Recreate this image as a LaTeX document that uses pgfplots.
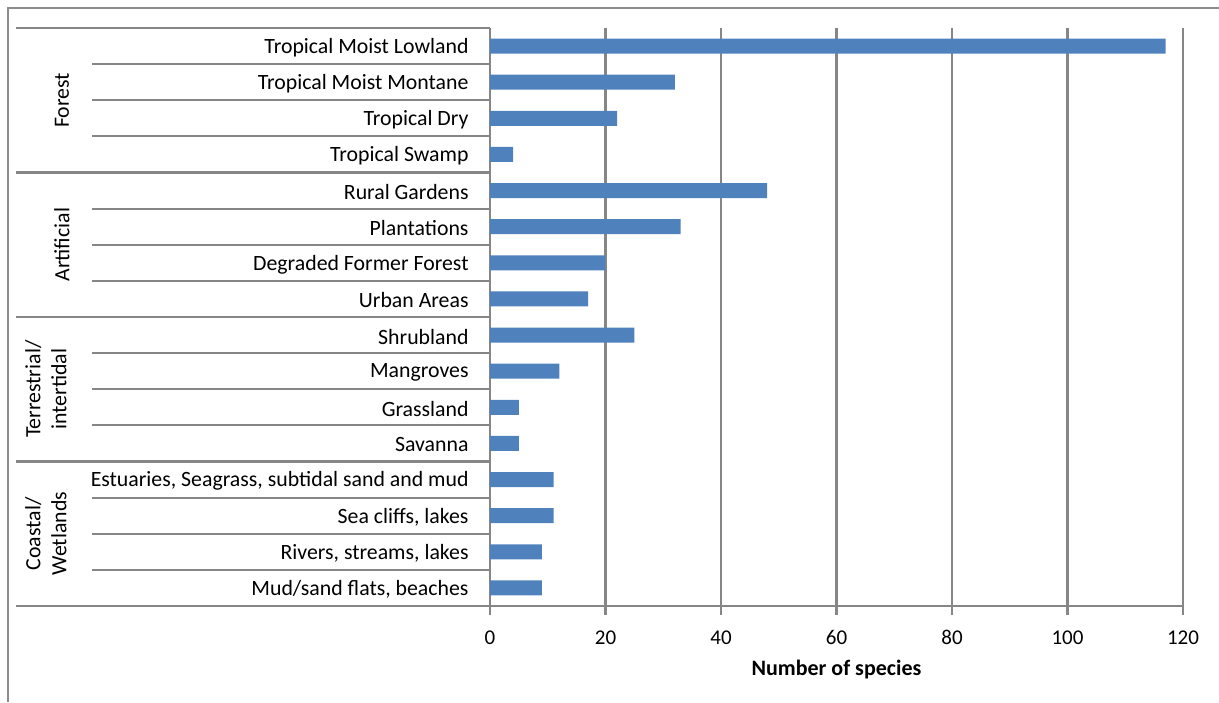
\documentclass[border=0pt]{standalone}
\usepackage{fontspec}
\setmainfont{Carlito}
\usepackage{pgfplots}
\pgfplotsset{compat=1.18}
\definecolor{barblue}{HTML}{4F81BD}
\definecolor{gridgray}{HTML}{868686}
\definecolor{framegray}{HTML}{8C8C8C}
\begin{document}
\fontsize{21.8}{26}\selectfont
\begin{tikzpicture}[x=1pt,y=1pt]
\useasboundingbox (0,0) rectangle (1219,702);
\draw[framegray, line width=1.5pt] (8,0) -- (8,694) -- (1219,694);
\begin{axis}[
  at={(490pt,96pt)}, anchor=south west,
  scale only axis, width=693pt, height=578pt,
  xmin=0, xmax=120, ymin=-0.5, ymax=15.5,
  xbar, bar width=15pt,
  axis x line*=bottom, axis y line*=left,
  axis line style={-, gridgray, line width=2.2pt},
  xtick={0,20,...,120},
  xmajorgrids, grid style={gridgray, line width=2.2pt},
  tick align=outside,
  x tick style={gridgray, line width=2.2pt}, major tick length=9pt,
  ytick={0,...,15}, y tick style={draw=none},
  yticklabels={{Mud/sand flats, beaches},{Rivers, streams, lakes},{Sea cliffs, lakes},{Estuaries, Seagrass, subtidal sand and mud},{Savanna},{Grassland},{Mangroves\ },{Shrubland},{Urban Areas},{Degraded Former Forest},{Plantations},{Rural Gardens},{Tropical Swamp},{Tropical Dry},{Tropical Moist Montane},{Tropical Moist Lowland}},
  yticklabel style={anchor=east, xshift=-5pt, yshift=-1.5pt, font=\fontsize{21.8}{26}\selectfont},
  xticklabel style={yshift=-8pt, font=\fontsize{21}{25}\selectfont},
  /pgf/number format/assume math mode=true,
  xlabel={\textbf{Number of species}},
  xlabel style={yshift=0pt, font=\fontsize{22}{26}\selectfont},
  clip=false,
]
\addplot[fill=barblue, draw=none] coordinates {
(117,15) (32,14) (22,13) (4,12) (48,11) (33,10) (20,9) (17,8)
(25,7) (12,6) (5,5) (5,4) (11,3) (11,2) (9,1) (9,0)};
\pgfplotsinvokeforeach{0.5,1.5,2.5,4.5,5.5,6.5,8.5,9.5,10.5,12.5,13.5,14.5}{
  \draw[gridgray, line width=2.2pt] (axis cs:0,#1) -- ++(-398pt,0pt);
}
\pgfplotsinvokeforeach{-0.5,3.5,7.5,11.5,15.5}{
  \draw[gridgray, line width=2.2pt] (axis cs:0,#1) -- ++(-474pt,0pt);
}
\node[rotate=90] at ([xshift=-428pt]axis cs:0,13.5) {Forest};
\node[rotate=90] at ([xshift=-428pt]axis cs:0,9.5) {Artificial};
\node[rotate=90, align=center] at ([xshift=-444pt]axis cs:0,5.5) {Terrestrial/\\intertidal};
\node[rotate=90, align=center] at ([xshift=-444pt]axis cs:0,1.5) {Coastal/\\Wetlands};
\end{axis}
\end{tikzpicture}
\end{document}
